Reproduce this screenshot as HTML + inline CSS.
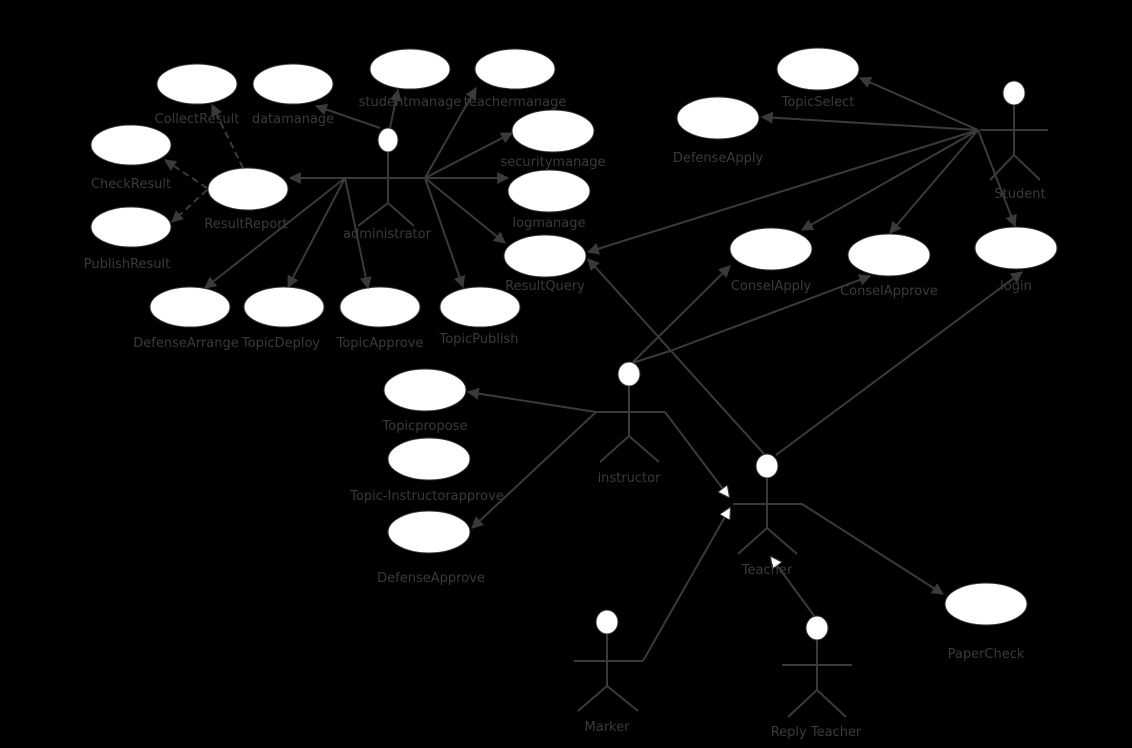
<!DOCTYPE html>
<html><head><meta charset="utf-8"><style>
html,body{margin:0;padding:0;background:#000;}
svg{display:block}
text{font-family:"DejaVu Sans","Liberation Sans",sans-serif;font-size:13px;fill:#3a3a3a;text-anchor:middle}
</style></head><body>
<svg width="1132" height="748" viewBox="0 0 1132 748" xmlns="http://www.w3.org/2000/svg">
<defs>
<marker id="a" viewBox="0 0 10 10" refX="9" refY="5" markerWidth="6" markerHeight="6" orient="auto"><path d="M0,0 L10,5 L0,10 z" fill="#3a3a3a"/></marker>
<marker id="w" viewBox="0 0 10 10" refX="9" refY="5" markerWidth="6" markerHeight="6" orient="auto"><path d="M0,0 L10,5 L0,10 z" fill="#fff" stroke="#3a3a3a" stroke-width="1"/></marker>
</defs>
<g fill="#fff" stroke="#333" stroke-width="1">
<ellipse cx="197" cy="84" rx="40" ry="20"/>
<ellipse cx="293" cy="84" rx="40" ry="20"/>
<ellipse cx="410" cy="69" rx="40" ry="20"/>
<ellipse cx="515" cy="69" rx="40" ry="20"/>
<ellipse cx="553" cy="131" rx="41" ry="21"/>
<ellipse cx="549" cy="191" rx="41" ry="21"/>
<ellipse cx="545" cy="256" rx="41" ry="21"/>
<ellipse cx="131" cy="145" rx="40" ry="20"/>
<ellipse cx="248" cy="189" rx="40" ry="21"/>
<ellipse cx="131" cy="227" rx="40" ry="20"/>
<ellipse cx="190" cy="307" rx="40" ry="20"/>
<ellipse cx="284" cy="307" rx="40" ry="20"/>
<ellipse cx="380" cy="307" rx="40" ry="20"/>
<ellipse cx="480" cy="307" rx="40" ry="20"/>
<ellipse cx="818" cy="69" rx="41" ry="21"/>
<ellipse cx="718" cy="118" rx="41" ry="21"/>
<ellipse cx="771" cy="249" rx="41" ry="21"/>
<ellipse cx="889" cy="255" rx="41" ry="21"/>
<ellipse cx="1016" cy="248" rx="41" ry="21"/>
<ellipse cx="425" cy="390" rx="41" ry="21"/>
<ellipse cx="429" cy="459" rx="41" ry="21"/>
<ellipse cx="429" cy="532" rx="41" ry="21"/>
<ellipse cx="986" cy="604" rx="41" ry="21"/>
</g>
<g stroke="#3a3a3a" stroke-width="2" fill="none">
<line x1="388" y1="152" x2="388" y2="203"/>
<line x1="345" y1="178" x2="425" y2="178"/>
<line x1="388" y1="203" x2="358" y2="226"/><line x1="388" y1="203" x2="414" y2="226"/>
<line x1="425" y1="178" x2="290" y2="178" marker-end="url(#a)"/>
<line x1="380" y1="128" x2="316" y2="106" marker-end="url(#a)"/>
<line x1="390" y1="128" x2="398" y2="90" marker-end="url(#a)"/>
<line x1="425" y1="178" x2="476" y2="88" marker-end="url(#a)"/>
<line x1="425" y1="178" x2="512" y2="133" marker-end="url(#a)"/>
<line x1="425" y1="178" x2="508" y2="178" marker-end="url(#a)"/>
<line x1="425" y1="178" x2="505" y2="243" marker-end="url(#a)"/>
<line x1="425" y1="178" x2="463" y2="287" marker-end="url(#a)"/>
<line x1="345" y1="178" x2="205" y2="288" marker-end="url(#a)"/>
<line x1="345" y1="178" x2="288" y2="287" marker-end="url(#a)"/>
<line x1="345" y1="178" x2="368" y2="288" marker-end="url(#a)"/>
<line x1="243" y1="168" x2="212" y2="105" stroke-dasharray="7,4" marker-end="url(#a)"/>
<line x1="207" y1="188" x2="165" y2="160" stroke-dasharray="7,4" marker-end="url(#a)"/>
<line x1="207" y1="190" x2="172" y2="222" stroke-dasharray="7,4" marker-end="url(#a)"/>
<line x1="1014" y1="105" x2="1014" y2="155"/>
<line x1="980" y1="130" x2="1048" y2="130"/>
<line x1="1014" y1="155" x2="990" y2="180"/><line x1="1014" y1="155" x2="1040" y2="180"/>
<line x1="978" y1="130" x2="860" y2="78" marker-end="url(#a)"/>
<line x1="978" y1="130" x2="762" y2="117" marker-end="url(#a)"/>
<line x1="978" y1="130" x2="588" y2="252" marker-end="url(#a)"/>
<line x1="978" y1="130" x2="802" y2="230" marker-end="url(#a)"/>
<line x1="978" y1="130" x2="890" y2="233" marker-end="url(#a)"/>
<line x1="978" y1="130" x2="1015" y2="226" marker-end="url(#a)"/>
<line x1="629" y1="386" x2="629" y2="436"/>
<line x1="596" y1="412" x2="665" y2="412"/>
<line x1="629" y1="436" x2="600" y2="462"/><line x1="629" y1="436" x2="659" y2="462"/>
<line x1="596" y1="412" x2="468" y2="392" marker-end="url(#a)"/>
<line x1="596" y1="412" x2="472" y2="528" marker-end="url(#a)"/>
<line x1="632" y1="363" x2="730" y2="266" marker-end="url(#a)"/>
<line x1="632" y1="363" x2="670" y2="351"/>
<line x1="670" y1="351" x2="870" y2="276" marker-end="url(#a)"/>
<line x1="665" y1="412" x2="729" y2="497" marker-end="url(#w)"/>
<line x1="767" y1="478" x2="767" y2="528"/>
<line x1="733" y1="504" x2="802" y2="504"/>
<line x1="767" y1="528" x2="738" y2="554"/><line x1="767" y1="528" x2="797" y2="554"/>
<line x1="765" y1="455" x2="588" y2="259" marker-end="url(#a)"/>
<line x1="776" y1="455" x2="1022" y2="272" marker-end="url(#a)"/>
<line x1="802" y1="504" x2="943" y2="594" marker-end="url(#a)"/>
<line x1="607" y1="634" x2="607" y2="686"/>
<line x1="574" y1="661" x2="643" y2="661"/>
<line x1="607" y1="686" x2="578" y2="711"/><line x1="607" y1="686" x2="638" y2="711"/>
<line x1="643" y1="661" x2="730" y2="508" marker-end="url(#w)"/>
<line x1="817" y1="640" x2="817" y2="690"/>
<line x1="782" y1="665" x2="852" y2="665"/>
<line x1="817" y1="690" x2="788" y2="717"/><line x1="817" y1="690" x2="846" y2="717"/>
<line x1="815" y1="617" x2="771" y2="557" marker-end="url(#w)"/>
</g>
<g fill="#fff" stroke="#333" stroke-width="1">
<ellipse cx="388" cy="140" rx="10" ry="12"/>
<ellipse cx="1014" cy="93" rx="11" ry="12"/>
<ellipse cx="629" cy="374" rx="11" ry="12"/>
<ellipse cx="767" cy="466" rx="11" ry="12"/>
<ellipse cx="607" cy="622" rx="11" ry="12"/>
<ellipse cx="817" cy="628" rx="11" ry="12"/>
</g>
<text x="197" y="123">CollectResult</text>
<text x="293" y="123">datamanage</text>
<text x="410" y="106">studentmanage</text>
<text x="515" y="106">teachermanage</text>
<text x="553" y="166">securitymanage</text>
<text x="549" y="227">logmanage</text>
<text x="545" y="290">ResultQuery</text>
<text x="131" y="188">CheckResult</text>
<text x="246" y="228">ResultReport</text>
<text x="127" y="268">PublishResult</text>
<text x="387" y="238">administrator</text>
<text x="186" y="347">DefenseArrange</text>
<text x="281" y="347">TopicDeploy</text>
<text x="380" y="347">TopicApprove</text>
<text x="479" y="343">TopicPublish</text>
<text x="818" y="106">TopicSelect</text>
<text x="718" y="162">DefenseApply</text>
<text x="1020" y="198">Student</text>
<text x="771" y="290">ConselApply</text>
<text x="889" y="295">ConselApprove</text>
<text x="1016" y="290">login</text>
<text x="425" y="430">Topicpropose</text>
<text x="427" y="500">Topic-Instructorapprove</text>
<text x="431" y="582">DefenseApprove</text>
<text x="629" y="482">instructor</text>
<text x="767" y="574">Teacher</text>
<text x="986" y="658">PaperCheck</text>
<text x="607" y="731">Marker</text>
<text x="816" y="736">Reply Teacher</text>
</svg>
</body></html>
